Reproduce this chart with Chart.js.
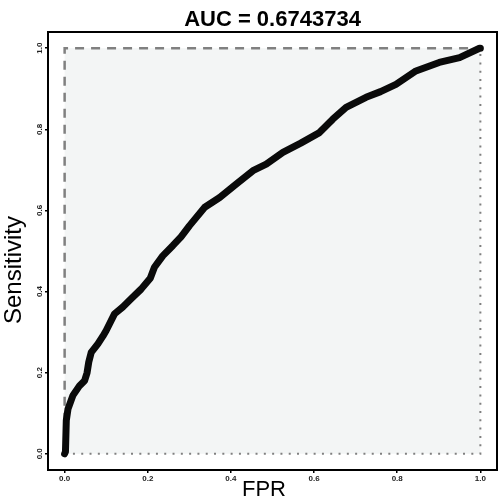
<!DOCTYPE html>
<html>
<head>
<meta charset="utf-8">
<script src="https://cdn.jsdelivr.net/npm/chart.js@4.4.8/dist/chart.umd.min.js"></script>
<style>
  html, body { margin: 0; padding: 0; background: #fff; }
  #wrap { width: 500px; height: 503px; }
</style>
</head>
<body>
<div id="wrap"><canvas id="roc"></canvas></div>
<script>
const AUC_TITLE = "AUC = 0.6743734";
const X_LABEL = "FPR";
const Y_LABEL = "Sensitivity";
const TICKS = [0, 0.2, 0.4, 0.6, 0.8, 1.0];

// ROC curve
const fpr = [0, 0.002, 0.004, 0.008, 0.02, 0.036, 0.048, 0.054, 0.058, 0.064, 0.08, 0.092,
  0.10, 0.12, 0.14, 0.16, 0.184, 0.206, 0.216, 0.236, 0.26, 0.28, 0.30, 0.337, 0.373,
  0.413, 0.453, 0.485, 0.525, 0.568, 0.613, 0.645, 0.677, 0.725, 0.76, 0.797, 0.845,
  0.901, 0.95, 0.998, 1.0];
const tpr = [0, 0.005, 0.082, 0.11, 0.144, 0.168, 0.18, 0.2, 0.226, 0.25, 0.271, 0.29,
  0.304, 0.345, 0.362, 0.382, 0.406, 0.433, 0.46, 0.488, 0.513, 0.535, 0.562, 0.608, 0.632,
  0.665, 0.698, 0.714, 0.743, 0.766, 0.792, 0.825, 0.854, 0.879, 0.893, 0.911, 0.944,
  0.965, 0.977, 1.0, 1.0];

// reference curves: perfect classifier (dashed) and worst (dotted)
const bestX = [0, 0, 1];
const bestY = [0, 1, 1];
const worstX = [0, 1, 1];
const worstY = [0, 0, 1];

const FONT = "'Liberation Sans', Arial, Helvetica, sans-serif";

function toPoints(xs, ys) {
  return xs.map((x, i) => ({ x, y: ys[i] }));
}

// light grey square behind the curves, black frame, axis labels
const frame = {
  id: "frame",
  beforeDatasetsDraw(chart) {
    const { ctx, scales: { x, y } } = chart;
    const x0 = x.getPixelForValue(0), x1 = x.getPixelForValue(1);
    const y0 = y.getPixelForValue(0), y1 = y.getPixelForValue(1);
    ctx.save();
    ctx.fillStyle = "#f3f5f5";
    ctx.fillRect(x0, y1, x1 - x0, y0 - y1);
    ctx.restore();
  },
  afterDraw(chart) {
    const { ctx, chartArea: a } = chart;
    ctx.save();
    ctx.strokeStyle = "#000";
    ctx.lineWidth = 2;
    ctx.strokeRect(a.left, a.top, a.right - a.left, a.bottom - a.top);

    ctx.fillStyle = "#000";
    ctx.textAlign = "center";
    ctx.textBaseline = "middle";
    ctx.font = "22px " + FONT;
    ctx.fillText(X_LABEL, 264, 490);

    ctx.translate(14, 270);
    ctx.rotate(-Math.PI / 2);
    ctx.font = "24px " + FONT;
    ctx.fillText(Y_LABEL, 0, 0);
    ctx.restore();
  }
};

new Chart(document.getElementById("roc"), {
  type: "scatter",
  data: {
    datasets: [
      {
        data: toPoints(fpr, tpr),
        showLine: true,
        borderColor: "#0a0a0a",
        borderWidth: 7,
        borderCapStyle: "round",
        borderJoinStyle: "round",
        pointRadius: 0,
        tension: 0,
        order: 0
      },
      {
        data: toPoints(bestX, bestY),
        showLine: true,
        borderColor: "#808080",
        borderWidth: 2.5,
        borderDash: [9, 7],
        pointRadius: 0,
        order: 1
      },
      {
        data: toPoints(worstX, worstY),
        showLine: true,
        borderColor: "#808080",
        borderWidth: 2,
        borderDash: [2, 6.3],
        pointRadius: 0,
        order: 2
      }
    ]
  },
  options: {
    responsive: true,
    maintainAspectRatio: false,
    animation: false,
    layout: { padding: { left: 0, right: 3, top: 0, bottom: 0 } },
    plugins: {
      legend: { display: false },
      tooltip: { enabled: false },
      title: {
        display: true,
        fullSize: false,
        text: AUC_TITLE,
        color: "#000",
        font: { family: FONT, size: 22, weight: "bold", lineHeight: 1.1 },
        padding: { top: 7.8, bottom: 0 }
      }
    },
    scales: {
      x: {
        type: "linear",
        min: -0.04,
        max: 1.04,
        afterFit(scale) { scale.height = 33; },
        afterBuildTicks(scale) { scale.ticks = TICKS.map((v) => ({ value: v })); },
        border: { display: false },
        grid: { drawOnChartArea: false, drawTicks: true, tickLength: 3, color: "#000", lineWidth: 1.5 },
        ticks: {
          color: "#222",
          padding: 1,
          maxRotation: 0,
          font: { family: FONT, size: 8, weight: "bold" },
          callback: (v) => v.toFixed(1)
        }
      },
      y: {
        type: "linear",
        min: -0.04,
        max: 1.04,
        afterFit(scale) { scale.width = 48; },
        afterBuildTicks(scale) { scale.ticks = TICKS.map((v) => ({ value: v })); },
        border: { display: false },
        grid: { drawOnChartArea: false, drawTicks: true, tickLength: 3, color: "#000", lineWidth: 1.5 },
        ticks: {
          color: "#222",
          padding: 0,
          minRotation: 90,
          maxRotation: 90,
          crossAlign: "center",
          font: { family: FONT, size: 8, weight: "bold" },
          callback: (v) => v.toFixed(1)
        }
      }
    }
  },
  plugins: [frame]
});
</script>
</body>
</html>
